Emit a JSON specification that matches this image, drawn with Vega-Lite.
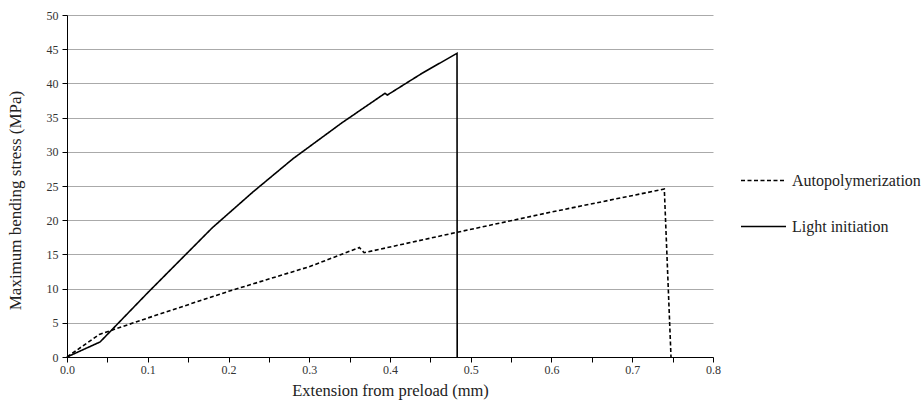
{
  "$schema": "https://vega.github.io/schema/vega-lite/v6.json",
  "width": 646,
  "height": 342,
  "autosize": "none",
  "padding": {"left": 67, "top": 15, "right": 210, "bottom": 49},
  "background": "white",
  "config": {
    "font": "Liberation Serif",
    "view": {"stroke": null},
    "axis": {"labelFont": "Liberation Serif", "titleFont": "Liberation Serif", "labelColor": "#333", "titleColor": "#222", "titleFontWeight": "normal", "domainColor": "#000", "tickColor": "#000"}
  },
  "data": {
    "values": [
      {"series": "Light initiation", "i": 0, "ext": 0.0, "stress": 0.0},
      {"series": "Light initiation", "i": 1, "ext": 0.041, "stress": 2.2},
      {"series": "Light initiation", "i": 2, "ext": 0.1, "stress": 9.4},
      {"series": "Light initiation", "i": 3, "ext": 0.18, "stress": 18.9},
      {"series": "Light initiation", "i": 4, "ext": 0.23, "stress": 24.1},
      {"series": "Light initiation", "i": 5, "ext": 0.28, "stress": 29.0},
      {"series": "Light initiation", "i": 6, "ext": 0.34, "stress": 34.2},
      {"series": "Light initiation", "i": 7, "ext": 0.3938, "stress": 38.55},
      {"series": "Light initiation", "i": 8, "ext": 0.3967, "stress": 38.3},
      {"series": "Light initiation", "i": 9, "ext": 0.44, "stress": 41.5},
      {"series": "Light initiation", "i": 10, "ext": 0.483, "stress": 44.4},
      {"series": "Light initiation", "i": 11, "ext": 0.4832, "stress": 0.0},
      {"series": "Autopolymerization", "i": 0, "ext": 0.0, "stress": 0.0},
      {"series": "Autopolymerization", "i": 1, "ext": 0.04, "stress": 3.3},
      {"series": "Autopolymerization", "i": 2, "ext": 0.1, "stress": 5.7},
      {"series": "Autopolymerization", "i": 3, "ext": 0.2, "stress": 9.6},
      {"series": "Autopolymerization", "i": 4, "ext": 0.3, "stress": 13.2},
      {"series": "Autopolymerization", "i": 5, "ext": 0.362, "stress": 16.0},
      {"series": "Autopolymerization", "i": 6, "ext": 0.368, "stress": 15.25},
      {"series": "Autopolymerization", "i": 7, "ext": 0.474, "stress": 18.0},
      {"series": "Autopolymerization", "i": 8, "ext": 0.6, "stress": 21.2},
      {"series": "Autopolymerization", "i": 9, "ext": 0.7397, "stress": 24.55},
      {"series": "Autopolymerization", "i": 10, "ext": 0.748, "stress": 0.0}
    ]
  },
  "mark": {"type": "line", "strokeWidth": 1.6, "color": "black"},
  "encoding": {
    "x": {
      "field": "ext", "type": "quantitative",
      "scale": {"domain": [0, 0.8], "nice": false},
      "axis": {
        "title": "Extension from preload (mm)",
        "titleFontSize": 16.5, "titlePadding": 7,
        "labelFontSize": 12,
        "grid": false,
        "values": [0, 0.05, 0.1, 0.15, 0.2, 0.25, 0.3, 0.35, 0.4, 0.45, 0.5, 0.55, 0.6, 0.65, 0.7, 0.75, 0.8],
        "labelExpr": "abs(datum.value*10 - round(datum.value*10)) < 0.001 ? format(datum.value, '.1f') : ''",
        "tickSize": 5, "labelPadding": 2, "labelFlush": false, "labelOverlap": false
      }
    },
    "y": {
      "field": "stress", "type": "quantitative",
      "scale": {"domain": [0, 50], "nice": false},
      "axis": {
        "title": "Maximum bending stress (MPa)",
        "titleFontSize": 17, "titlePadding": 22,
        "titleY": 185,
        "labelFontSize": 12,
        "values": [0, 5, 10, 15, 20, 25, 30, 35, 40, 45, 50],
        "grid": true, "gridColor": "#aaaaaa", "gridWidth": 1,
        "tickSize": 5, "labelPadding": 4
      }
    },
    "strokeDash": {
      "field": "series", "type": "nominal",
      "scale": {"domain": ["Autopolymerization", "Light initiation"], "range": [[4, 2.5], [1, 0]]},
      "legend": {
        "title": null,
        "orient": "none",
        "legendX": 673,
        "legendY": 142,
        "symbolType": "stroke",
        "symbolSize": 2025,
        "symbolStrokeWidth": 1.6,
        "symbolStrokeColor": "black",
        "labelFontSize": 16,
        "labelColor": "#222",
        "labelFont": "Liberation Serif",
        "rowPadding": 14,
        "labelOffset": 5,
        "labelLimit": 300
      }
    },
    "order": {"field": "i", "type": "quantitative"}
  }
}
